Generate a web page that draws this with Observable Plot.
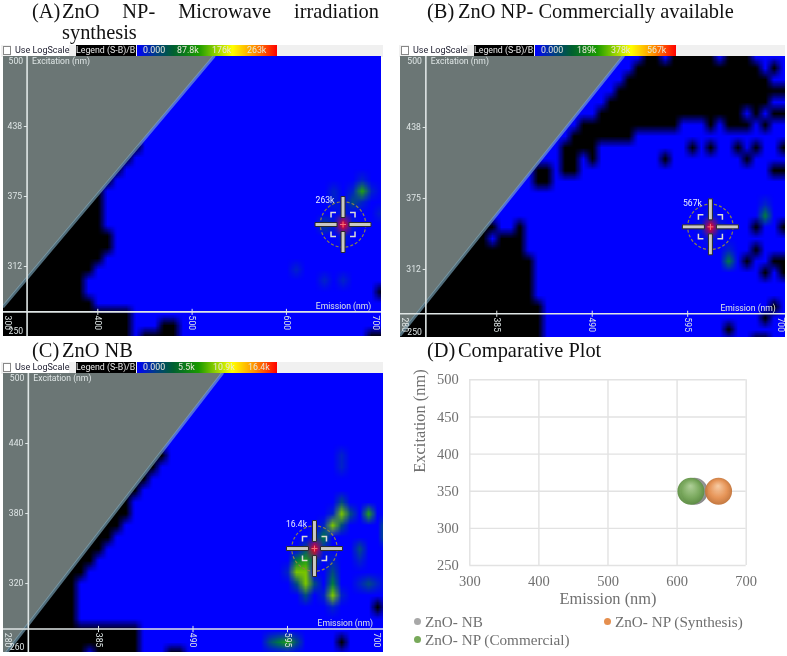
<!DOCTYPE html>
<html>
<head>
<meta charset="utf-8">
<script src="https://cdn.jsdelivr.net/npm/d3@7"></script>
<script src="https://cdn.jsdelivr.net/npm/@observablehq/plot@0.6"></script>
<style>
html,body{margin:0;padding:0;background:#fff}
#root{position:relative;width:787px;height:656px;overflow:hidden;filter:blur(0.45px)}
.abs{position:absolute}
.ttl{font-family:"Liberation Serif",serif;font-size:20.4px;line-height:17px;color:#111;white-space:nowrap}
.strip{position:absolute;background:#f0f0f0}
.use{position:absolute;background:#fff;font:9px Roboto,sans-serif;color:#223;line-height:11px;white-space:nowrap}
.chk{position:absolute;background:#fff;border:1px solid #888;box-sizing:border-box}
.lgd{position:absolute;background:#000;color:#e8e8e8;font:8.8px Roboto,sans-serif;line-height:11px;text-align:center;white-space:nowrap}
.grad{position:absolute;background:linear-gradient(90deg,#0000ff 0%,#003f80 14%,#006030 26%,#1a9a00 44%,#8fd000 56%,#ffff00 68%,#ff9000 84%,#ff0000 100%)}
.glab{position:absolute;color:#e8e8d8;font:8.8px Roboto,sans-serif;line-height:11px;white-space:nowrap}
.leg{position:absolute;font-family:"Liberation Serif",serif;font-size:15.2px;line-height:16px;color:#6f6f6f;white-space:nowrap}
.ball{position:absolute;width:7px;height:7px;border-radius:50%}
</style>
</head>
<body>
<div id="root"></div>
<script>
// ---------- data ----------
// Wedge of the spectrum that is not measured: [emission, lower excitation, upper excitation]
const wedgeA = [[300, 277, 500], [523, 500, 500]];
const wedgeB = [[279, 255, 500], [524, 500, 500]];
const wedgeC = [[279, 257, 500], [522.4, 500, 500]];

// Below-threshold (black) runs: [excitation, emission from, emission to]
const blackA = [[420,300,440],[410,300,430],[400,300,420],[390,300,410],[380,300,400],[370,300,400],[360,300,400],[350,300,400],[340,300,410],[330,300,410],[320,300,400],[310,300,390],[300,300,380],[290,300,380],[290,700,700],[280,300,390],[270,300,430],[260,300,430],[260,470,480],[250,300,430],[250,450,480],[250,690,700]];
const blackB = [[500,550,560],[500,580,620],[500,640,660],[490,540,670],[490,690,690],[480,530,680],[470,520,700],[460,510,680],[450,500,650],[450,670,670],[450,690,700],[440,480,580],[440,620,620],[440,640,660],[440,680,680],[430,470,530],[420,460,490],[420,600,600],[420,620,620],[420,650,650],[420,670,670],[420,700,700],[410,460,470],[410,490,490],[410,570,570],[410,660,660],[400,430,440],[400,460,470],[400,690,700],[390,430,440],[350,280,380],[350,410,410],[350,670,670],[350,700,700],[340,280,370],[340,390,410],[330,280,410],[330,670,670],[320,280,420],[320,660,660],[320,690,700],[310,280,420],[310,680,680],[310,700,700],[300,280,420],[290,280,420],[280,280,430],[280,690,690],[270,280,430],[270,680,680],[260,280,430],[260,640,640],[250,280,430],[250,670,680]];
const blackC = [[430,285,455],[420,285,445],[410,285,435],[400,285,425],[390,285,415],[380,285,415],[370,285,405],[360,285,395],[350,285,385],[340,285,375],[330,285,365],[320,285,355],[310,285,355],[300,285,355],[300,695,695],[290,285,355],[280,285,425],[270,285,425],[270,655,655],[260,285,365],[260,385,425],[260,465,475]];

// Signal nodes: [emission, excitation, level 1-9]
const hotA = [[660,350,9],[680,380,4],[670,380,1],[680,370,1],[680,390,1],[690,380,1],[650,380,1],[670,370,2],[640,350,2],[650,350,1],[670,350,1],[660,360,1],[660,340,1],[610,310,1],[640,300,1],[660,300,1],[700,360,1],[650,370,1]];
const hotB = [[620,350,9],[680,360,3],[640,320,3],[610,350,1],[630,350,1],[620,360,1],[620,340,1],[680,370,1],[640,330,1]];
const hotC = [[625,350,9],[615,350,2],[635,350,1],[625,340,2],[625,360,1],[635,360,3],[615,340,4],[605,340,3],[655,380,5],[655,390,2],[655,370,2],[645,380,1],[665,380,2],[645,370,5],[635,370,1],[685,380,4],[705,360,3],[705,370,3],[615,320,5],[605,330,5],[615,330,5],[605,320,2],[625,320,2],[615,310,2],[595,330,1],[645,310,5],[645,320,3],[645,330,2],[645,340,1],[645,300,1],[635,310,1],[655,310,1],[675,350,2],[675,340,1],[685,320,2],[675,320,1],[695,320,1],[655,430,1],[655,420,1],[585,270,3],[595,270,4],[605,270,2],[575,270,2]];

// Axis ticks and labels
const exTicksA = [437.5,375,312.5], exLabelsA = ["438","375","312"];
const exTicksC = [440,380,320], exLabelsC = ["440","380","320"];
const emTicksA = [400,500,600], emLabelsA = ["300","400","500","600","700"], emLabelPosA = [304,400,500,600,695];
const emTicksB = [385,490,595], emLabelsB = ["280","385","490","595","700"], emLabelPosB = [284,385,490,595,697], emLabelPosC = [284,385,490,595,694];

// Legend texts of the three maps
const legendA = ["0.000","87.8k","176k","263k"];
const legendB = ["0.000","189k","378k","567k"];
const legendC = ["0.000","5.5k","10.9k","16.4k"];

// Comparative plot
const series = ["ZnO- NB","ZnO- NP (Synthesis)","ZnO- NP (Commercial)"];
const peakEm = [625,660,620];
const peakEx = [350,350,350];
const gridEm = [300,400,500,600,700];
const gridEx = [250,300,350,400,450,500];

// Level colours of the map legend
const levels = [-1,0,1,2,3,4,5,6,7,8,9];
const levelColors = ["#000000","#0000ff","#0022c8","#004a80","#007a40","#22a010","#78c400","#d0e400","#ffe000","#ff8000","#ff0018"];

// ---------- helpers ----------
const root = document.getElementById("root");
function add(node, left, top){ node.style.position="absolute"; node.style.left=left+"px"; node.style.top=top+"px"; root.appendChild(node); return node; }
function el(cls, css, text){ const d=document.createElement("div"); d.className=cls; Object.assign(d.style,css); if(text!=null) d.textContent=text; root.appendChild(d); return d; }

function buildGrid(emFirst, emLast, exTop, exBottom, black, hot){
  const cols=(emLast-emFirst)/10+1, rows=(exTop-exBottom)/10+1;
  const v=new Array(cols*rows).fill(0);
  const at=(em,ex)=>Math.round((exTop-ex)/10)*cols+Math.round((em-emFirst)/10);
  for(const [ex,a,b] of black) for(let em=a;em<=b;em+=10) v[at(em,ex)]=-1;
  for(const [em,ex,l] of hot) v[at(em,ex)]=l;
  return {v,cols,rows};
}
const armSymbol={draw(c){
  const rect=(x,y,w,h)=>{c.moveTo(x,y);c.lineTo(x+w,y);c.lineTo(x+w,y+h);c.lineTo(x,y+h);c.closePath();};
  rect(-28,-2,22,4);rect(6,-2,22,4);rect(-2,-28,4,21);rect(-2,7,4,21);
}};
const bracketSymbol={draw(c){
  for(const [sx,sy] of [[-1,-1],[1,-1],[1,1],[-1,1]]){c.moveTo(sx*12,sy*7);c.lineTo(sx*12,sy*12);c.lineTo(sx*7,sy*12);}
}};
const plusSymbol={draw(c){c.moveTo(-3,0);c.lineTo(3,0);c.moveTo(0,-3);c.lineTo(0,3);}};

const sans='Roboto,sans-serif', small=8.6;
function mapPanel(o){
  const g=buildGrid(o.emFirst,o.emLast,o.exTop,o.exBottom,o.black,o.hot);
  const peak=[{em:o.peak[0],ex:o.peak[1]}];
  const [exLo,exHi]=o.yDomain;
  const wedge=o.wedge.map(([em,lo,hi])=>({em,lo,hi}));
  const tickColor="#dfe6e6";
  const p=Plot.plot({
    width:o.w,height:o.h,margin:0,
    x:{domain:o.xDomain,axis:null},y:{domain:o.yDomain,axis:null},
    color:{type:"linear",domain:levels,range:levelColors},
    marks:[
      Plot.raster(g.v,{width:g.cols,height:g.rows,x1:o.emFirst-5,x2:o.emLast+5,y1:o.exTop+5,y2:o.exBottom-5,fill:d=>d}),
      Plot.areaY(wedge,{x:"em",y1:"lo",y2:"hi",fill:"#6b7675"}),
      Plot.line(wedge,{x:"em",y:"lo",stroke:"#86b4cc",strokeOpacity:0.6,strokeWidth:3}),
      Plot.ruleX([o.axisEm],{stroke:tickColor,strokeWidth:1.6}),
      Plot.ruleY([o.axisEx],{stroke:tickColor,strokeWidth:1.6}),
      Plot.link(o.exTicks,{x1:o.axisEm-3.5,x2:o.axisEm,y1:d=>d,y2:d=>d,stroke:tickColor}),
      Plot.text(o.exTicks,{x:o.axisEm,y:d=>d,text:(d,i)=>o.exLabels[i],textAnchor:"end",dx:-5,fill:tickColor,fontSize:small,fontFamily:sans}),
      Plot.text([exHi],{x:o.axisEm,y:exHi,text:()=>String(o.yLabelTop),textAnchor:"end",dx:-4,dy:5,fill:tickColor,fontSize:small,fontFamily:sans}),
      Plot.text([o.yLabelBottom],{x:o.axisEm,y:exLo,text:d=>String(d),textAnchor:"end",dx:-4,dy:-5,fill:tickColor,fontSize:small,fontFamily:sans}),
      Plot.text(["Excitation (nm)"],{x:o.axisEm,y:exHi,text:d=>d,textAnchor:"start",dx:5,dy:5,fill:tickColor,fontSize:small,fontFamily:sans}),
      Plot.text(["Emission (nm)"],{x:o.emTitle,y:o.axisEx,text:d=>d,textAnchor:"end",dy:-6,fill:tickColor,fontSize:small,fontFamily:sans}),
      Plot.link(o.emTicks,{x1:d=>d,x2:d=>d,y1:o.axisEx+2.7,y2:o.axisEx-2.7,stroke:tickColor}),
      Plot.text(o.emLabelPos,{x:d=>d,y:o.axisEx,text:(d,i)=>o.emLabels[i],rotate:90,dy:11,fill:tickColor,fontSize:small,fontFamily:sans}),
      Plot.dot(peak,{x:"em",y:"ex",r:22.7,stroke:"#8a8448",strokeWidth:1.2,strokeDasharray:"3,2",fill:"none"}),
      Plot.dot(peak,{x:"em",y:"ex",symbol:armSymbol,fill:"#c9c9c3",stroke:"#2b2b2b",strokeWidth:1}),
      Plot.dot(peak,{x:"em",y:"ex",symbol:bracketSymbol,fill:"none",stroke:"#dcdcd4",strokeWidth:1.5}),
      Plot.dot(peak,{x:"em",y:"ex",symbol:plusSymbol,fill:"none",stroke:"#f07080",strokeWidth:1}),
      Plot.text(peak,{x:"em",y:"ex",text:()=>o.peakLabel,dx:-18,dy:-24,fill:"#e8ecff",fontSize:small,fontFamily:sans})
    ]
  });
  add(p,o.left,o.top);
}
function header(o){
  el("strip",{left:o.x0+1+"px",top:o.y+"px",width:o.stripW+"px",height:"12px"});
  el("use",{left:o.x0+o.useL+"px",top:o.y+"px",width:"56px",height:"11px"},null);
  el("use",{left:o.x0+15+"px",top:o.y+"px",height:"11px"},"Use LogScale");
  el("chk",{left:o.x0+3+"px",top:o.y+1+"px",width:"8px",height:"9px"});
  el("lgd",{left:o.x0+76+"px",top:o.y+"px",width:"60px",height:"11px"},"Legend (S-B)/B:");
  el("grad",{left:o.x0+137+"px",top:o.y+"px",width:o.gw+"px",height:"11px"});
  o.labels.forEach((t,i)=>el("glab",{left:o.x0+o.lx[i]+"px",top:o.y+"px"},t));
}
function title(letter,left,textLeft,top,text){
  el("ttl abs",{left:left+"px",top:top+"px"},letter);
  el("ttl abs",{left:textLeft+"px",top:top+"px"},text);
}

// ---------- titles ----------
el("ttl abs",{left:"32px",top:"3px"},"(A)");
el("ttl abs",{left:"62px",top:"3px",width:"317px",whiteSpace:"normal",textAlign:"justify",textAlignLast:"justify"},"ZnO NP- Microwave irradiation");
el("ttl abs",{left:"62px",top:"24px"},"synthesis");
title("(B)",427,458,3,"ZnO NP- Commercially available");
title("(C)",32,62,342,"ZnO NB");
title("(D)",427,458,342,"Comparative Plot");

// ---------- map headers ----------
header({x0:0,y:45,stripW:382,useL:11,gw:140,labels:legendA,lx:[143,177,212,247]});
header({x0:398,y:45,stripW:386,useL:11,gw:141,labels:legendB,lx:[143,179,213,249]});
header({x0:0,y:362,stripW:382,useL:11,gw:140,labels:legendC,lx:[143,178,213,248]});

// ---------- map panels ----------
mapPanel({left:3,top:56,w:378,h:280,xDomain:[300,700.8],yDomain:[250,500],emFirst:300,emLast:700,exTop:500,exBottom:250,black:blackA,hot:hotA,wedge:wedgeA,axisEm:325,axisEx:272,exTicks:exTicksA,exLabels:exLabelsA,yLabelTop:500,yLabelBottom:250,emTicks:emTicksA,emLabels:emLabelsA,emLabelPos:emLabelPosA,emTitle:690,peak:[660,350],peakLabel:"263k"});
mapPanel({left:399.5,top:56,w:385,h:281,xDomain:[279.1,702.6],yDomain:[252.6,500],emFirst:280,emLast:700,exTop:500,exBottom:250,black:blackB,hot:hotB,wedge:wedgeB,axisEm:307,axisEx:273.5,exTicks:exTicksA,exLabels:exLabelsA,yLabelTop:500,yLabelBottom:250,emTicks:emTicksB,emLabels:emLabelsB,emLabelPos:emLabelPosB,emTitle:692,peak:[620,350],peakLabel:"567k"});
mapPanel({left:3,top:373,w:380,h:279,xDomain:[279.4,701.7],yDomain:[260.9,500],emFirst:285,emLast:705,exTop:500,exBottom:260,black:blackC,hot:hotC,wedge:wedgeC,axisEm:307,axisEx:281,exTicks:exTicksC,exLabels:exLabelsC,yLabelTop:500,yLabelBottom:260,emTicks:emTicksB,emLabels:emLabelsB,emLabelPos:emLabelPosC,emTitle:690,peak:[625,350],peakLabel:"16.4k"});

// ---------- comparative plot ----------
const balls=[
  {id:"gNB",stops:["#d6d6d6","#9a9a9a","#7c7c7c"]},
  {id:"gSy",stops:["#f7c9a0","#e58f4f","#b96c33"]},
  {id:"gCo",stops:["#aed096","#78a95a","#55863c"]}
];
function gradients(){
  const defs=d3.create("svg:defs");
  for(const b of balls){
    const g=defs.append("radialGradient").attr("id",b.id).attr("cx","50%").attr("cy","50%").attr("r","55%").attr("fx","48%").attr("fy","30%");
    g.append("stop").attr("offset","0%").attr("stop-color",b.stops[0]);
    g.append("stop").attr("offset","60%").attr("stop-color",b.stops[1]);
    g.append("stop").attr("offset","100%").attr("stop-color",b.stops[2]);
  }
  return defs.node();
}
const gray="#707070", serif='"Liberation Serif",serif';
const comp=Plot.plot({
  width:392,height:286,marginLeft:74.3,marginRight:41.3,marginTop:44.3,marginBottom:56,
  style:{color:gray,fontFamily:serif},
  x:{domain:[300,700]},y:{domain:[250,500]},
  marks:[
    gradients,
    Plot.gridX(gridEm,{stroke:"#e2e2e2",strokeOpacity:1,strokeWidth:1.4}),
    Plot.gridY(gridEx,{stroke:"#e2e2e2",strokeOpacity:1,strokeWidth:1.4}),
    Plot.axisX({ticks:gridEm,tickSize:0,tickPadding:10,fontSize:14.5,label:null,tickFormat:d=>String(d)}),
    Plot.axisY({ticks:gridEx,tickSize:0,tickPadding:11,fontSize:14.5,label:null,tickFormat:d=>String(d)}),
    Plot.text(["Emission (nm)"],{frameAnchor:"bottom",dy:38,text:d=>d,fontSize:16.4,fill:gray,fontFamily:serif}),
    Plot.text(["Excitation (nm)"],{frameAnchor:"left",dx:-50,rotate:-90,text:d=>d,fontSize:16.4,fill:gray,fontFamily:serif}),
    ...[0,1,2].map(i=>Plot.dot([i],{x:d=>peakEm[d],y:d=>peakEx[d],r:13.5,fill:`url(#${balls[i].id})`,fillOpacity:0.95}))
  ]
});
add(comp,395,335);

// ---------- comparative legend ----------
const legPos=[[425,614],[615,614],[425,632]];
const ballColors=["#a8a8a8","#e58f4f","#78a95a"];
series.forEach((s,i)=>{
  el("leg",{left:legPos[i][0]+"px",top:legPos[i][1]+"px"},s);
  el("ball",{left:legPos[i][0]-11+"px",top:legPos[i][1]+4+"px",background:ballColors[i]});
});
</script>
</body>
</html>
